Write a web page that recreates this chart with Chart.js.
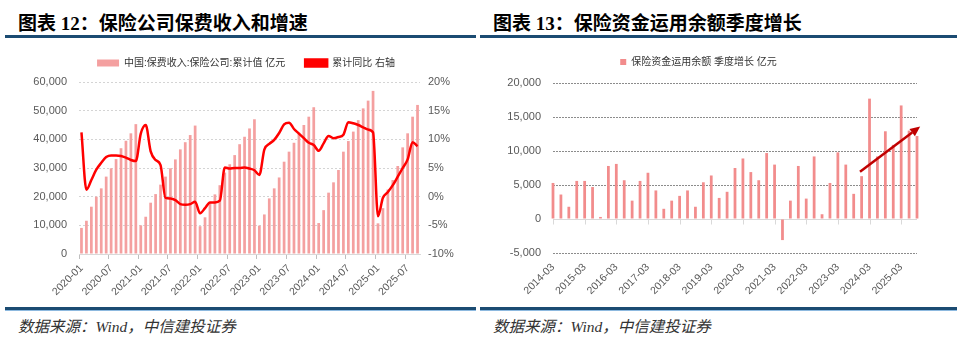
<!DOCTYPE html>
<html>
<head>
<meta charset="utf-8">
<script src="https://cdn.jsdelivr.net/npm/chart.js@4.4.1/dist/chart.umd.min.js"></script>
<style>
  body { margin: 0; width: 960px; height: 341px; background: #fff; position: relative; overflow: hidden; }
  .title { position: absolute; top: 8px; font-size: 19px; font-weight: bold; color: #000;
           font-family: "Liberation Serif", "Noto Sans CJK SC", serif; white-space: nowrap; }
  .rule-top { position: absolute; top: 35px; height: 3px; background: #1B4B72; }
  .rule-bot { position: absolute; top: 307px; height: 3px; background: #1B4B72; border-bottom: 1px solid #8DB9DF; }
  .source { position: absolute; top: 314px; font-size: 15.5px; font-style: italic; color: #333;
            font-family: "Liberation Serif", "Noto Sans CJK SC", serif; white-space: nowrap; }
  .box { position: absolute; top: 48px; width: 470px; height: 262px; }
</style>
</head>
<body>
<div class="title" style="left:18px">图表 12：保险公司保费收入和增速</div>
<div class="title" style="left:493px">图表 13：保险资金运用余额季度增长</div>
<div class="rule-top" style="left:5px; width:471px"></div>
<div class="rule-top" style="left:480px; width:477px"></div>

<div class="box" style="left:0"><canvas id="premiumChart" width="470" height="262"></canvas></div>
<div class="box" style="left:480px"><canvas id="fundChart" width="470" height="262"></canvas></div>

<div class="rule-bot" style="left:5px; width:471px"></div>
<div class="rule-bot" style="left:480px; width:477px"></div>
<div class="source" style="left:18px">数据来源：Wind，中信建投证券</div>
<div class="source" style="left:493px">数据来源：Wind，中信建投证券</div>

<script>
// monthly cumulative premium income (亿元) and its YoY growth (%)
const months = [
  '2020-01','2020-02','2020-03','2020-04','2020-05','2020-06','2020-07','2020-08','2020-09','2020-10','2020-11','2020-12',
  '2021-01','2021-02','2021-03','2021-04','2021-05','2021-06','2021-07','2021-08','2021-09','2021-10','2021-11','2021-12',
  '2022-01','2022-02','2022-03','2022-04','2022-05','2022-06','2022-07','2022-08','2022-09','2022-10','2022-11','2022-12',
  '2023-01','2023-02','2023-03','2023-04','2023-05','2023-06','2023-07','2023-08','2023-09','2023-10','2023-11','2023-12',
  '2024-01','2024-02','2024-03','2024-04','2024-05','2024-06','2024-07','2024-08','2024-09','2024-10','2024-11','2024-12',
  '2025-01','2025-02','2025-03','2025-04','2025-05','2025-06','2025-07','2025-08','2025-09'
];
const premium = [
  9100, 11600, 16500, 20000, 22900, 27000, 29900, 33100, 36900, 39500, 42100, 45300,
  10000, 13000, 17900, 20900, 24200, 27000, 29900, 33000, 36500, 39000, 41500, 44800,
  9700, 12800, 17800, 20800, 24000, 28400, 31300, 34500, 38300, 40900, 43800, 47000,
  9900, 13800, 19400, 22900, 26700, 32200, 35700, 38800, 42300, 45000, 47900, 51200,
  10800, 15300, 21400, 25000, 29300, 35700, 39400, 42700, 46700, 50800, 53500, 56900,
  10700, 16000, 22500, 25800, 30700, 37200, 42100, 47900, 52000
];
const premiumYoY = [
  11.2, 1.2, 2.9, 4.7, 5.9, 6.9, 7.2, 7.2, 7.1, 6.8, 6.4, 6.2,
  11.0, 12.5, 7.9, 6.4, 5.5, -0.2, -0.3, -0.6, -1.3, -1.4, -1.3, -0.9,
  -2.9, -2.0, -1.0, -1.0, -0.7, 5.1, 4.9, 5.0, 5.0, 5.1, 4.9, 4.6,
  3.8, 8.2, 9.2, 9.9, 11.1, 12.6, 12.9, 11.8, 11.0, 10.2, 9.4, 9.0,
  8.0, 9.3, 10.6, 10.2, 10.4, 10.8, 13.0, 12.8, 12.5, 12.1, 11.7, 11.2,
  -3.4, -0.2, 0.8, 2.0, 3.5, 5.0, 6.5, 9.5, 8.8
];

// quarterly increase of insurance fund balance (亿元)
const quarters = [
  '2014-03','2014-06','2014-09','2014-12','2015-03','2015-06','2015-09','2015-12',
  '2016-03','2016-06','2016-09','2016-12','2017-03','2017-06','2017-09','2017-12',
  '2018-03','2018-06','2018-09','2018-12','2019-03','2019-06','2019-09','2019-12',
  '2020-03','2020-06','2020-09','2020-12','2021-03','2021-06','2021-09','2021-12',
  '2022-03','2022-06','2022-09','2022-12','2023-03','2023-06','2023-09','2023-12',
  '2024-03','2024-06','2024-09','2024-12','2025-03','2025-06','2025-09'
];
const fundGrowth = [
  5300, 3600, 1800, 5600, 5600, 4700, 300, 7800,
  8100, 5700, 2700, 5600, 6800, 4200, 1500, 2700,
  3400, 4200, 1800, 5400, 6400, 3100, 4000, 7500,
  8900, 6900, 5700, 9700, 8000, -3100, 2700, 7800,
  3000, 9200, 700, 5300, 9800, 8000, 3700, 6300,
  17700, 9200, 12900, 10900, 16700, 13000, 12200
];
// trend arrow, [category index, value] at each end
const arrowStart = [38.8, 6950];
const arrowEnd = [46.4, 13600];

Chart.defaults.font.family = '"Liberation Sans", "Noto Sans CJK SC", sans-serif';
Chart.defaults.color = '#595959';
Chart.defaults.animation = false;

const tickFont = { size: 11 };
const dateFont = { size: 10.5 };
const fmt = v => v.toLocaleString('en-US');

// make the legend box a fixed height so the plot top lands where we want it
function legendHeight(h) {
  return {
    id: 'legendHeight',
    beforeInit(chart) {
      const fit = chart.legend.fit;
      chart.legend.fit = function () {
        fit.call(this);
        this.height = h;
      };
    }
  };
}

new Chart(document.getElementById('premiumChart'), {
  data: {
    labels: months,
    datasets: [
      {
        type: 'bar',
        label: '中国:保费收入:保险公司:累计值 亿元',
        data: premium,
        yAxisID: 'y',
        backgroundColor: '#F4A0A0',
        categoryPercentage: 1,
        barPercentage: 0.55,
        order: 1
      },
      {
        type: 'line',
        label: '累计同比 右轴',
        data: premiumYoY,
        yAxisID: 'y1',
        borderColor: '#FF0000',
        backgroundColor: '#FF0000',
        borderWidth: 2.5,
        pointRadius: 0,
        cubicInterpolationMode: 'monotone',
        order: 0
      }
    ]
  },
  options: {
    responsive: false,
    // legend sits a bit higher so its wider item spacing does not push it down
    layout: { padding: { top: -10, left: 22 } },
    plugins: {
      tooltip: { enabled: false },
      legend: {
        labels: {
          boxWidth: 22, boxHeight: 7, padding: 20, color: '#333',
          font: { size: 10 },
          sort: (a, b) => a.datasetIndex - b.datasetIndex
        }
      }
    },
    scales: {
      x: {
        offset: true,
        grid: {
          offset: true, drawOnChartArea: false, drawTicks: true, tickLength: 5,
          color: c => c.index % 6 === 0 ? '#bfbfbf' : 'rgba(0,0,0,0)'
        },
        border: { color: '#d9d9d9' },
        ticks: {
          autoSkip: false, minRotation: 45, maxRotation: 45, padding: 3, font: dateFont,
          callback: (v, i) => i % 6 === 0 ? months[i] : ''
        },
        afterFit: s => { s.height = 56; }
      },
      y: {
        min: 0, max: 60000,
        ticks: { stepSize: 10000, padding: 12, font: tickFont, callback: fmt },
        grid: { color: '#d4d4d4', drawTicks: false },
        border: { display: false, dash: [2, 2] },
        afterFit: s => { s.width = 57; }
      },
      y1: {
        position: 'right',
        min: -10, max: 20,
        ticks: { stepSize: 5, padding: 8, font: tickFont, callback: v => v + '%' },
        grid: { drawOnChartArea: false, drawTicks: false },
        border: { display: false },
        afterFit: s => { s.width = 50; }
      }
    }
  },
  plugins: [legendHeight(44)]
});

// solid zero line with year ticks, drawn under the bars
const zeroAxis = {
  id: 'zeroAxis',
  beforeDatasetsDraw(chart) {
    const { ctx, chartArea, scales: { x, y } } = chart;
    const y0 = Math.round(y.getPixelForValue(0)) + 0.5;
    ctx.save();
    ctx.strokeStyle = '#d9d9d9';
    ctx.lineWidth = 1;
    ctx.beginPath();
    ctx.moveTo(chartArea.left, y0);
    ctx.lineTo(chartArea.right, y0);
    quarters.forEach((q, i) => {
      if (i % 4 !== 0) return;
      const px = Math.round(x.getPixelForValue(i)) + 0.5;
      ctx.moveTo(px, y0);
      ctx.lineTo(px, y0 + 5);
    });
    ctx.stroke();
    ctx.restore();
  }
};

const trendArrow = {
  id: 'trendArrow',
  afterDatasetsDraw(chart) {
    const { ctx, scales: { x, y } } = chart;
    const x1 = x.getPixelForValue(arrowStart[0]), y1 = y.getPixelForValue(arrowStart[1]);
    const x2 = x.getPixelForValue(arrowEnd[0]), y2 = y.getPixelForValue(arrowEnd[1]);
    const ang = Math.atan2(y2 - y1, x2 - x1);
    const head = 10, half = 4.5;
    const bx = x2 - head * Math.cos(ang), by = y2 - head * Math.sin(ang);
    ctx.save();
    ctx.strokeStyle = '#C00000';
    ctx.fillStyle = '#C00000';
    ctx.lineWidth = 2.5;
    ctx.beginPath();
    ctx.moveTo(x1, y1);
    ctx.lineTo(bx, by);
    ctx.stroke();
    ctx.beginPath();
    ctx.moveTo(x2, y2);
    ctx.lineTo(bx + half * Math.sin(ang), by - half * Math.cos(ang));
    ctx.lineTo(bx - half * Math.sin(ang), by + half * Math.cos(ang));
    ctx.closePath();
    ctx.fill();
    ctx.restore();
  }
};

new Chart(document.getElementById('fundChart'), {
  type: 'bar',
  data: {
    labels: quarters,
    datasets: [{
      label: '保险资金运用余额 季度增长 亿元',
      data: fundGrowth,
      backgroundColor: '#F28C8C',
      categoryPercentage: 1,
      barPercentage: 0.35,
      clip: false
    }]
  },
  options: {
    responsive: false,
    layout: { padding: { right: 33 } },
    plugins: {
      tooltip: { enabled: false },
      legend: {
        labels: { boxWidth: 6, boxHeight: 6, padding: 9, color: '#333', font: { size: 10 } }
      }
    },
    scales: {
      x: {
        offset: false,
        grid: { display: false, drawTicks: false },
        border: { display: false },
        ticks: {
          autoSkip: false, minRotation: 45, maxRotation: 45, padding: 8, font: dateFont,
          callback: (v, i) => i % 4 === 0 ? quarters[i] : ''
        },
        afterFit: s => { s.height = 57; }
      },
      y: {
        min: -5000, max: 20000,
        ticks: { stepSize: 5000, padding: 12, font: tickFont, callback: fmt },
        grid: {
          drawTicks: false,
          color: c => c.tick && c.tick.value === 0 ? 'rgba(0,0,0,0)' : '#8c8c8c'
        },
        border: { display: false, dash: [2, 1] },
        afterFit: s => { s.width = 73; }
      }
    }
  },
  plugins: [legendHeight(35), zeroAxis, trendArrow]
});
</script>
</body>
</html>
